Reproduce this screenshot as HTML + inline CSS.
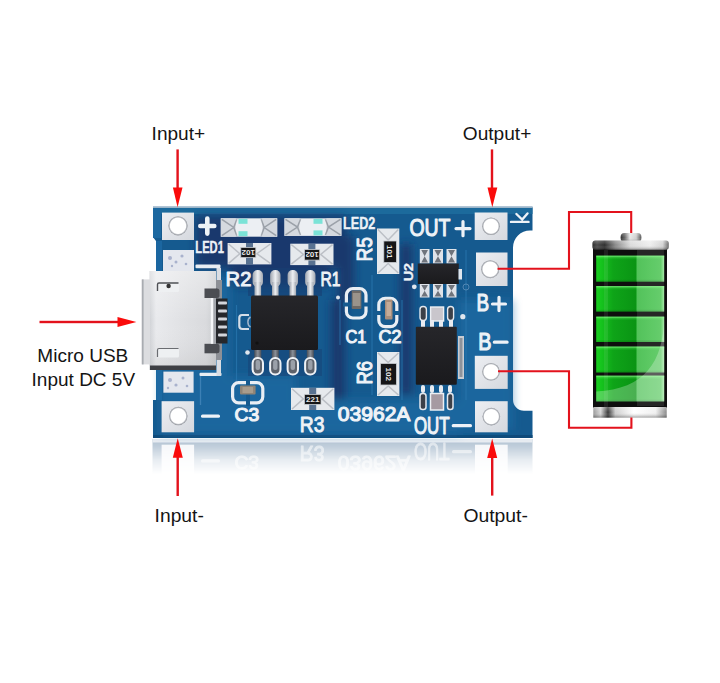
<!DOCTYPE html>
<html><head><meta charset="utf-8">
<style>
html,body{margin:0;padding:0;background:#fff;width:720px;height:683px;overflow:hidden}
svg{display:block}
.lbl{font-family:"Liberation Sans",sans-serif;font-size:19.2px;fill:#141414}
.ss{font-family:"Liberation Sans",sans-serif;fill:#eef2f7;stroke:#eef2f7;stroke-width:0.9;stroke-linejoin:round}
.gh{font-family:"Liberation Sans",sans-serif;fill:#ffffff;stroke:#ffffff;stroke-width:0.9;stroke-linejoin:round}
</style></head>
<body>
<svg width="720" height="683" viewBox="0 0 720 683">
<defs>
  <filter id="bl" x="-10%" y="-10%" width="120%" height="120%"><feGaussianBlur stdDeviation="4"/></filter>
  <linearGradient id="reflmask" x1="0" y1="0" x2="0" y2="1">
    <stop offset="0" stop-color="#fff" stop-opacity="1"/>
    <stop offset="0.25" stop-color="#fff" stop-opacity="0.75"/>
    <stop offset="0.6" stop-color="#fff" stop-opacity="0.3"/>
    <stop offset="1" stop-color="#fff" stop-opacity="0"/>
  </linearGradient>
  <mask id="rm" maskUnits="userSpaceOnUse" x="140" y="438" width="400" height="40">
    <rect x="140" y="438" width="400" height="36" fill="url(#reflmask)"/>
  </mask>
  <linearGradient id="usb" x1="0" y1="0" x2="1" y2="0">
    <stop offset="0" stop-color="#d0d2d6"/>
    <stop offset="0.1" stop-color="#e9eaed"/>
    <stop offset="0.5" stop-color="#e0e1e4"/>
    <stop offset="0.85" stop-color="#d9dadd"/>
    <stop offset="1" stop-color="#c8cacd"/>
  </linearGradient>
  <linearGradient id="usbv" x1="0" y1="0" x2="0" y2="1">
    <stop offset="0" stop-color="#ffffff" stop-opacity="0.35"/>
    <stop offset="0.5" stop-color="#ffffff" stop-opacity="0"/>
    <stop offset="1" stop-color="#888" stop-opacity="0.15"/>
  </linearGradient>
  <linearGradient id="metal" x1="0" y1="0" x2="1" y2="0">
    <stop offset="0" stop-color="#2a2a2a"/>
    <stop offset="0.06" stop-color="#4a4a4a"/>
    <stop offset="0.16" stop-color="#2e2e2e"/>
    <stop offset="0.3" stop-color="#8a8a8a"/>
    <stop offset="0.5" stop-color="#dcdcdc"/>
    <stop offset="0.75" stop-color="#eeeeee"/>
    <stop offset="0.92" stop-color="#d4d4d4"/>
    <stop offset="1" stop-color="#6a6a6a"/>
  </linearGradient>
  <linearGradient id="metal2" x1="0" y1="0" x2="1" y2="0">
    <stop offset="0" stop-color="#2e2e2e"/>
    <stop offset="0.2" stop-color="#6a6a6a"/>
    <stop offset="0.45" stop-color="#e8e8e8"/>
    <stop offset="0.75" stop-color="#cfcfcf"/>
    <stop offset="1" stop-color="#555"/>
  </linearGradient>
  <linearGradient id="metalb" x1="0" y1="0" x2="1" y2="0">
    <stop offset="0" stop-color="#9a9a9a"/>
    <stop offset="0.1" stop-color="#d8d8d8"/>
    <stop offset="0.2" stop-color="#3a3a3a"/>
    <stop offset="0.3" stop-color="#cfcfcf"/>
    <stop offset="0.55" stop-color="#ffffff"/>
    <stop offset="0.85" stop-color="#f0f0f0"/>
    <stop offset="1" stop-color="#8a8a8a"/>
  </linearGradient>
  <linearGradient id="metalv" x1="0" y1="0" x2="0" y2="1">
    <stop offset="0" stop-color="#ffffff" stop-opacity="0.25"/>
    <stop offset="0.5" stop-color="#ffffff" stop-opacity="0"/>
    <stop offset="1" stop-color="#000000" stop-opacity="0.35"/>
  </linearGradient>
  <linearGradient id="cell" x1="0" y1="0" x2="1" y2="0">
    <stop offset="0" stop-color="#18d020"/>
    <stop offset="0.1" stop-color="#14c01c"/>
    <stop offset="0.25" stop-color="#0ea418"/>
    <stop offset="0.58" stop-color="#0a9414"/>
    <stop offset="0.6" stop-color="#3fbc48"/>
    <stop offset="0.95" stop-color="#55c85c"/>
    <stop offset="1" stop-color="#9fe8a0"/>
  </linearGradient>
  <linearGradient id="cellv" x1="0" y1="0" x2="0" y2="1">
    <stop offset="0" stop-color="#90ff90" stop-opacity="0.8"/>
    <stop offset="0.08" stop-color="#80ff80" stop-opacity="0.15"/>
    <stop offset="0.15" stop-color="#80ff80" stop-opacity="0"/>
    <stop offset="0.9" stop-color="#000" stop-opacity="0"/>
    <stop offset="1" stop-color="#000" stop-opacity="0.15"/>
  </linearGradient>
  <linearGradient id="pad" x1="0" y1="0" x2="1" y2="1">
    <stop offset="0" stop-color="#eceef2"/>
    <stop offset="1" stop-color="#d5d8de"/>
  </linearGradient>
  <radialGradient id="hole" cx="0.5" cy="0.5" r="0.5">
    <stop offset="0.8" stop-color="#ffffff"/>
    <stop offset="0.9" stop-color="#b8bbc1"/>
    <stop offset="1" stop-color="#8f9298"/>
  </radialGradient>
  <linearGradient id="smd" x1="0" y1="0" x2="1" y2="0">
    <stop offset="0" stop-color="#d9dce1"/>
    <stop offset="0.5" stop-color="#f3f4f6"/>
    <stop offset="1" stop-color="#cdd0d6"/>
  </linearGradient>
  <linearGradient id="smdv" x1="0" y1="0" x2="0" y2="1">
    <stop offset="0" stop-color="#d9dce1"/>
    <stop offset="0.5" stop-color="#f3f4f6"/>
    <stop offset="1" stop-color="#cdd0d6"/>
  </linearGradient>
  <linearGradient id="pin" x1="0" y1="0" x2="1" y2="0">
    <stop offset="0" stop-color="#9da3ad"/>
    <stop offset="0.5" stop-color="#eef0f3"/>
    <stop offset="1" stop-color="#a3a8b1"/>
  </linearGradient>
  <linearGradient id="pinD" x1="0" y1="0" x2="1" y2="0">
    <stop offset="0" stop-color="#4a4e56"/>
    <stop offset="0.5" stop-color="#8a9099"/>
    <stop offset="1" stop-color="#4a4e56"/>
  </linearGradient>
  <linearGradient id="ic" x1="0" y1="0" x2="0" y2="1">
    <stop offset="0" stop-color="#26262a"/>
    <stop offset="1" stop-color="#1a1a1d"/>
  </linearGradient>
</defs>

<!-- reflection -->
<g mask="url(#rm)">
  <g transform="translate(0,877) scale(1,-1)">
    <rect x="152.5" y="400" width="380" height="38" fill="#adbfd0"/>
    <rect x="152.5" y="434.5" width="380" height="3.5" fill="#e4eaf0"/>
    <g fill="#f4f6f9">
      <rect x="161.6" y="401.2" width="32.5" height="31.1"/>
      <rect x="475" y="401.2" width="32.7" height="31.1"/>
    </g>
    <g opacity="0.55">
    <g fill="#ffffff">
      <rect x="201" y="414.4" width="19" height="3.4" rx="1.5"/>
      <rect x="452" y="423.8" width="20" height="3.2" rx="1.5"/>
    </g>
    <g class="gh">
      <text x="234.4" y="421" font-size="19" textLength="24.6" lengthAdjust="spacingAndGlyphs">C3</text>
      <text x="299.8" y="431.5" font-size="22" stroke-width="1" textLength="24.6" lengthAdjust="spacingAndGlyphs">R3</text>
      <text x="337.8" y="421.3" font-size="21" textLength="72.6" lengthAdjust="spacingAndGlyphs">03962A</text>
      <text x="414" y="433.6" font-size="24.5" textLength="35.6" lengthAdjust="spacingAndGlyphs">OUT</text>
    </g>
    </g>
  </g>
</g>

<!-- board -->
<path d="M153 206.8 H532.5 V230.4 H530 A17 17 0 0 0 513 247.4 V399.8 A11 11 0 0 0 524 410.8 H532.5 V438 H153 V400 H156 V241 Q153 238 153 236 Z" fill="#155a8f"/>
<rect x="153" y="206.5" width="379.5" height="1.6" fill="#9db6ca"/>
<rect x="153" y="208" width="379.5" height="6" fill="#1c6a9c"/>
<rect x="153" y="435" width="379.5" height="3" fill="#0f4a7a"/>
<rect x="156" y="241" width="6" height="159" fill="#1b66a0"/>
<rect x="153" y="208" width="8" height="30" fill="#1c68a0"/>
<!-- shading regions -->
<g filter="url(#bl)">
  <g fill="#172f62" opacity="0.75">
    <rect x="196" y="216" width="150" height="52"/>
    <rect x="230" y="262" width="100" height="24"/>
    <rect x="331" y="300" width="14" height="100"/>
    <rect x="338" y="236" width="16" height="64"/>
    <rect x="400" y="244" width="12" height="150"/>
  </g>
  <g fill="#1f72aa" opacity="0.55">
    <rect x="458" y="300" width="55" height="130"/>
    <rect x="160" y="400" width="300" height="34"/>
    <rect x="196" y="376" width="100" height="30"/>
    <rect x="160" y="280" width="70" height="120"/>
  </g>
</g>
<!-- traces -->
<g stroke="#2a78b0" stroke-width="1.2" fill="none" opacity="0.7">
  <line x1="236.5" y1="305" x2="236.5" y2="385"/>
  <line x1="340" y1="300" x2="340" y2="345"/>
  <line x1="372" y1="275" x2="372" y2="395"/>
  <line x1="402" y1="300" x2="402" y2="400"/>
  <line x1="466" y1="250" x2="466" y2="400"/>
</g>

<!-- pads -->
<g fill="url(#pad)">
  <rect x="162" y="212.6" width="32" height="27.4"/>
  <rect x="161.6" y="401.2" width="32.5" height="31.1"/>
  <rect x="474.7" y="212.5" width="32.8" height="27.5"/>
  <rect x="476" y="252.5" width="31.5" height="33.5"/>
  <rect x="474.8" y="355.8" width="32.9" height="33.1"/>
  <rect x="475" y="401.2" width="32.7" height="31.1"/>
</g>
<g>
  <rect x="163" y="250" width="31" height="22" fill="#e4e7ee"/>
  <rect x="163.4" y="371.6" width="30.2" height="21.1" fill="#e4e7ee"/>
  <g fill="#6f7fae" opacity="0.5">
    <circle cx="170" cy="258" r="2"/><circle cx="176" cy="262" r="1.5"/><circle cx="182" cy="256" r="1.6"/>
    <circle cx="186" cy="264" r="1.3"/><circle cx="172" cy="266" r="1.2"/>
    <circle cx="170" cy="380" r="2"/><circle cx="176" cy="385" r="1.6"/><circle cx="183" cy="378" r="1.5"/>
    <circle cx="187" cy="386" r="1.3"/><circle cx="168" cy="388" r="1.2"/>
  </g>
</g>
<g fill="url(#hole)">
  <circle cx="178" cy="225.8" r="9.6"/>
  <circle cx="178.3" cy="416" r="9.2"/>
  <circle cx="491" cy="226.2" r="8.8"/>
  <circle cx="490.2" cy="269.2" r="9"/>
  <circle cx="491" cy="371.8" r="8.8"/>
  <circle cx="491.3" cy="416.6" r="8.8"/>
</g>

<!-- LEDs -->
<g>
  <rect x="220.8" y="218.3" width="56.39999999999998" height="18.399999999999977" fill="#eceff3"/>
  <rect x="220.8" y="218.3" width="15" height="18.399999999999977" fill="#d5d9df"/>
  <rect x="262.2" y="218.3" width="15" height="18.399999999999977" fill="#d5d9df"/>
  <path d="M221.8 219.3 L233.8 227.5 L221.8 235.7 M236.8 219.3 L233.8 227.5 L236.8 235.7 M276.2 219.3 L264.2 227.5 L276.2 235.7 M261.2 219.3 L264.2 227.5 L261.2 235.7" fill="none" stroke="#6c727c" stroke-width="1.5" opacity="0.55"/>
  <rect x="238.5" y="218.8" width="9" height="5" fill="#5fe0cf" opacity="0.8"/>
  <rect x="238.5" y="231.2" width="9" height="5" fill="#5fe0cf" opacity="0.8"/>
  <rect x="284.5" y="218.3" width="56.89999999999998" height="17.599999999999994" fill="#eceff3"/>
  <rect x="284.5" y="218.3" width="15" height="17.599999999999994" fill="#d5d9df"/>
  <rect x="326.4" y="218.3" width="15" height="17.599999999999994" fill="#d5d9df"/>
  <path d="M285.5 219.3 L297.5 227.10000000000002 L285.5 234.9 M300.5 219.3 L297.5 227.10000000000002 L300.5 234.9 M340.4 219.3 L328.4 227.10000000000002 L340.4 234.9 M325.4 219.3 L328.4 227.10000000000002 L325.4 234.9" fill="none" stroke="#6c727c" stroke-width="1.5" opacity="0.55"/>
  <rect x="313.5" y="218.8" width="9" height="5" fill="#5fe0cf" opacity="0.8"/>
  <rect x="313.5" y="230.4" width="9" height="5" fill="#5fe0cf" opacity="0.8"/>
</g>

<!-- resistors -->
<g>
  <rect x="227.6" y="243" width="43.8" height="21.4" fill="#e6e9ed"/>
  <path d="M228.6 244 L239.8 253.7 L228.6 263.4 M270.4 244 L256.8 253.7 L270.4 263.4" fill="none" stroke="#7d838d" stroke-width="1.5" opacity="0.4"/>
  <rect x="246.0" y="243" width="7" height="21.4" fill="#2a4a72" opacity="0.75"/>
  <rect x="240.8" y="247.4" width="15.0" height="10.2" fill="#161618" stroke="#c9cdd3" stroke-width="0.8"/>
  <text x="248.3" y="255.4" text-anchor="middle" font-family="Liberation Sans, sans-serif" font-weight="bold" font-size="8" fill="#e9e9e9" transform="rotate(180 248.3 252.5)">102</text>
  <rect x="290.3" y="243.7" width="43.2" height="21.4" fill="#e6e9ed"/>
  <path d="M291.3 244.7 L303.5 254.4 L291.3 264.1 M332.5 244.7 L320.7 254.4 L332.5 264.1" fill="none" stroke="#7d838d" stroke-width="1.5" opacity="0.4"/>
  <rect x="308.4" y="243.7" width="7" height="21.4" fill="#2a4a72" opacity="0.75"/>
  <rect x="304.5" y="249.5" width="15.2" height="10.6" fill="#161618" stroke="#c9cdd3" stroke-width="0.8"/>
  <text x="312.1" y="257.7" text-anchor="middle" font-family="Liberation Sans, sans-serif" font-weight="bold" font-size="8" fill="#e9e9e9" transform="rotate(180 312.1 254.8)">102</text>
  <rect x="291" y="387.8" width="43.4" height="22.2" fill="#e6e9ed"/>
  <path d="M292 388.8 L303.4 398.9 L292 409 M333.4 388.8 L322 398.9 L333.4 409" fill="none" stroke="#7d838d" stroke-width="1.5" opacity="0.4"/>
  <rect x="309.2" y="387.8" width="7" height="22.2" fill="#2a4a72" opacity="0.75"/>
  <rect x="304.4" y="394.4" width="16.6" height="10.0" fill="#161618" stroke="#c9cdd3" stroke-width="0.8"/>
  <text x="312.7" y="402.3" text-anchor="middle" font-family="Liberation Sans, sans-serif" font-weight="bold" font-size="8" fill="#e9e9e9" transform="rotate(0 312.7 399.4)">221</text>
  <rect x="377" y="228.5" width="22.3" height="45.5" fill="#e6e9ed"/>
  <path d="M378 229.5 L388.15 240 L398.3 229.5 M378 273 L388.15 263.5 L398.3 273" fill="none" stroke="#7d838d" stroke-width="1.5" opacity="0.4"/>
  <rect x="383.8" y="241" width="12.6" height="21.5" fill="#161618" stroke="#c9cdd3" stroke-width="0.8"/>
  <text x="390.1" y="254.7" text-anchor="middle" font-family="Liberation Sans, sans-serif" font-weight="bold" font-size="8" fill="#e9e9e9" transform="rotate(90 390.1 251.8)">101</text>
  <rect x="377" y="352" width="22.4" height="44.0" fill="#e6e9ed"/>
  <path d="M378 353 L388.2 362.5 L398.4 353 M378 395 L388.2 386 L398.4 395" fill="none" stroke="#7d838d" stroke-width="1.5" opacity="0.4"/>
  <rect x="380.5" y="363.5" width="15.9" height="21.5" fill="#161618" stroke="#c9cdd3" stroke-width="0.8"/>
  <text x="388.4" y="377.1" text-anchor="middle" font-family="Liberation Sans, sans-serif" font-weight="bold" font-size="8" fill="#e9e9e9" transform="rotate(90 388.4 374.2)">102</text>
</g>
<!-- capacitors -->
<g fill="none" stroke="#e9eef4" stroke-width="3.2">
  <rect x="346.4" y="288.6" width="19.6" height="29.4" rx="6.5"/>
  <rect x="378.8" y="298.3" width="18" height="28.4" rx="6.5"/>
  <rect x="232.6" y="382.6" width="30.2" height="20.2" rx="6"/>
</g>
<g fill="#155a8f">
  <rect x="343" y="302.5" width="26" height="4"/>
  <rect x="376" y="311" width="24" height="4"/>
  <rect x="246" y="380" width="4" height="26"/>
</g>
<g>
  <rect x="351.7" y="290.5" width="9.7" height="18.5" rx="1" fill="#6f6a66"/>
  <rect x="352.7" y="293" width="7.7" height="13" fill="#9a938b"/>
  <rect x="385" y="299.5" width="7.5" height="20" rx="1" fill="#a88e7c"/>
  <rect x="386.5" y="302" width="4.5" height="14" fill="#c4ab98"/>
  <rect x="240" y="385.5" width="15.6" height="9" rx="1" fill="#8f8476"/>
  <rect x="242.5" y="387" width="10.6" height="6" fill="#a89c8c"/>
</g>

<!-- IC1 SOP-8 -->
<rect x="248" y="268" width="74" height="28" fill="#173f73" opacity="0.6"/>
<rect x="248" y="349" width="74" height="27" fill="#173f73" opacity="0.5"/>
  <rect x="252.6" y="270" width="10.4" height="17" rx="5" fill="url(#pin)"/>
  <rect x="254.5" y="282" width="6.6" height="14" fill="url(#pin)"/>
  <rect x="270.1" y="270" width="10.4" height="17" rx="5" fill="url(#pin)"/>
  <rect x="272.0" y="282" width="6.6" height="14" fill="url(#pin)"/>
  <rect x="287.6" y="270" width="10.4" height="17" rx="5" fill="url(#pin)"/>
  <rect x="289.5" y="282" width="6.6" height="14" fill="url(#pin)"/>
  <rect x="305.1" y="270" width="10.4" height="17" rx="5" fill="url(#pin)"/>
  <rect x="307.0" y="282" width="6.6" height="14" fill="url(#pin)"/>
  <rect x="254.3" y="349" width="7" height="14" fill="url(#pinD)"/>
  <rect x="252.6" y="358" width="10.4" height="16.5" rx="5" fill="#5d626b" stroke="#eef1f5" stroke-width="2"/>
  <rect x="255.6" y="360" width="4.4" height="10" rx="2" fill="#9aa0a9"/>
  <rect x="271.8" y="349" width="7" height="14" fill="url(#pinD)"/>
  <rect x="270.1" y="358" width="10.4" height="16.5" rx="5" fill="#5d626b" stroke="#eef1f5" stroke-width="2"/>
  <rect x="273.1" y="360" width="4.4" height="10" rx="2" fill="#9aa0a9"/>
  <rect x="289.3" y="349" width="7" height="14" fill="url(#pinD)"/>
  <rect x="287.6" y="358" width="10.4" height="16.5" rx="5" fill="#5d626b" stroke="#eef1f5" stroke-width="2"/>
  <rect x="290.6" y="360" width="4.4" height="10" rx="2" fill="#9aa0a9"/>
  <rect x="306.8" y="349" width="7" height="14" fill="url(#pinD)"/>
  <rect x="305.1" y="358" width="10.4" height="16.5" rx="5" fill="#5d626b" stroke="#eef1f5" stroke-width="2"/>
  <rect x="308.1" y="360" width="4.4" height="10" rx="2" fill="#9aa0a9"/>
<rect x="251" y="295.6" width="67" height="54.3" rx="1.5" fill="url(#ic)"/>
<circle cx="257" cy="343" r="1.6" fill="#111"/>
<circle cx="247.5" cy="352.5" r="2.3" fill="#dfe6ee"/>
<circle cx="338" cy="297.5" r="2" fill="#dfe6ee"/>
<path d="M249 315 H242 Q239.3 315 239.3 318 V326 Q239.3 329 242.5 329 H249" fill="none" stroke="#d5dee8" stroke-width="2.2"/>
<path d="M250.5 317 A4.5 5.5 0 0 0 250.5 327" fill="none" stroke="#9fb5cc" stroke-width="1.5"/>

<!-- U2 SOT23-6 -->
<g>
  <rect x="419.8" y="249" width="9.7" height="14.5" fill="#dfe3e9"/>
  <rect x="433" y="249" width="10" height="14.5" fill="#dfe3e9"/>
  <rect x="446.5" y="249" width="10" height="14.5" fill="#dfe3e9"/>
  <rect x="419.8" y="284" width="9.7" height="13.5" fill="#dfe3e9"/>
  <rect x="433" y="284" width="10" height="13.5" fill="#dfe3e9"/>
  <rect x="446.5" y="284" width="10" height="13.5" fill="#dfe3e9"/>
  <g fill="#4a4f58" opacity="0.75">
    <polygon points="421.3,250 428.0,250 424.65,256.25 428.0,262.5 421.3,262.5 424.65,256.25"/>
    <polygon points="434.5,250 441.5,250 438.0,256.25 441.5,262.5 434.5,262.5 438.0,256.25"/>
    <polygon points="448.0,250 455.0,250 451.5,256.25 455.0,262.5 448.0,262.5 451.5,256.25"/>
    <polygon points="421.3,285 428.0,285 424.65,290.75 428.0,296.5 421.3,296.5 424.65,290.75"/>
    <polygon points="434.5,285 441.5,285 438.0,290.75 441.5,296.5 434.5,296.5 438.0,290.75"/>
    <polygon points="448.0,285 455.0,285 451.5,290.75 455.0,296.5 448.0,296.5 451.5,290.75"/>
  </g>
</g>
<rect x="417.8" y="263.5" width="41" height="20.5" fill="url(#ic)"/>
<circle cx="414.3" cy="286.8" r="2.4" fill="#dfe6ee"/>
<rect x="458.5" y="269" width="3.5" height="10.5" fill="#dfe6ee"/>
<circle cx="466" cy="287" r="3" fill="none" stroke="#7fa7cc" stroke-width="0.8" opacity="0.7"/>

<!-- IC3 MSOP-8 -->
<g>
  <rect x="420" y="306.5" width="6.4" height="14" rx="3" fill="#3c4048" stroke="#e4e8ee" stroke-width="1.4"/>
  <rect x="430.6" y="307" width="13" height="14" fill="#c9c6cc" stroke="#eceff3" stroke-width="1.4"/>
  <rect x="447.6" y="306.5" width="6" height="14" rx="3" fill="#3c4048" stroke="#e4e8ee" stroke-width="1.4"/>
  <g fill="#e8ebf0">
    <rect x="421" y="320" width="4" height="7"/>
    <rect x="430" y="320" width="4" height="7"/>
    <rect x="439" y="320" width="4" height="7"/>
    <rect x="449" y="320" width="4" height="7"/>
    <rect x="421" y="385" width="4" height="8" rx="2"/>
    <rect x="430" y="385" width="4" height="8" rx="2"/>
    <rect x="439" y="385" width="4" height="8" rx="2"/>
    <rect x="448" y="385" width="4" height="8" rx="2"/>
  </g>
  <rect x="420" y="393.5" width="6" height="16" rx="2.5" fill="#3c4048" stroke="#e4e8ee" stroke-width="1.5"/>
  <rect x="430.5" y="393.5" width="13" height="16.5" fill="#a69aa2" stroke="#eceff3" stroke-width="1.5"/>
  <rect x="447.5" y="393.5" width="5.5" height="16" rx="2.5" fill="#3c4048" stroke="#e4e8ee" stroke-width="1.5"/>
</g>
<rect x="415.8" y="326.8" width="41" height="58" rx="1" fill="url(#ic)"/>
<rect x="458" y="336" width="6" height="43" fill="#c9ccd2"/>
<rect x="459.5" y="338" width="3" height="39" fill="#8e939b"/>
<circle cx="462.8" cy="316.7" r="2.6" fill="#dfe6ee"/>

<!-- USB silkscreen -->
<g fill="#e8edf3">
  <rect x="195.5" y="264.6" width="25" height="3.6" rx="1"/>
  <rect x="199.5" y="372.8" width="22" height="3.2" rx="1"/>
  <rect x="216.5" y="268" width="4.5" height="22" fill="#d9dde3"/>
  <rect x="216.5" y="352" width="4.5" height="24" fill="#d9dde3"/>
</g>
<line x1="200.5" y1="376" x2="200.5" y2="405" stroke="#4a8cc0" stroke-width="1.3" opacity="0.7"/>
<!-- USB connector -->
<g>
  <rect x="215" y="280" width="7" height="80" fill="#8d9096"/>
  <rect x="215.5" y="298.5" width="12" height="45" fill="#25272b"/>
  <g fill="#d3d6db">
    <rect x="218" y="301.5" width="9" height="3" rx="1"/>
    <rect x="218" y="309.5" width="9" height="3" rx="1"/>
    <rect x="218" y="317.5" width="9" height="3" rx="1"/>
    <rect x="218" y="325.5" width="9" height="3" rx="1"/>
    <rect x="218" y="333.5" width="9" height="3" rx="1"/>
  </g>
  <rect x="204.5" y="288.5" width="15" height="9.5" rx="2.5" fill="#4b4d52"/>
  <rect x="204.5" y="343.8" width="15" height="9.5" rx="2.5" fill="#4b4d52"/>
  <rect x="149.5" y="271" width="66.5" height="99" fill="url(#usb)"/>
  <rect x="149.5" y="271" width="66.5" height="99" fill="url(#usbv)"/>
  <rect x="141.8" y="279.4" width="8.2" height="85" fill="#dcdde0"/>
  <rect x="141.8" y="279.4" width="1.8" height="85" fill="#a9acb1"/>
  <rect x="150" y="365.5" width="66" height="4.5" fill="#3e3f44"/>
  <g>
    <rect x="157" y="283" width="22" height="9" rx="1.5" fill="#eef0f2"/>
    <path d="M157.5 291 V284.5 Q157.5 283 159 283 H178.5" fill="none" stroke="#4f5156" stroke-width="1.4"/>
    <circle cx="168.6" cy="286" r="2.2" fill="#333"/>
    <rect x="157" y="348.5" width="22" height="9" rx="1.5" fill="#eef0f2"/>
    <path d="M157.5 357 V350 Q157.5 348.5 159 348.5 H178.5" fill="none" stroke="#6a6c71" stroke-width="1.2"/>
  </g>
  <rect x="204.5" y="288.5" width="12" height="9.5" fill="#4b4d52"/>
  <rect x="204.5" y="343.8" width="12" height="9.5" fill="#4b4d52"/>
  <rect x="210.8" y="298" width="2.6" height="45.8" fill="#f6f7f9"/>
  <rect x="213.4" y="298" width="2.6" height="45.8" fill="#a4a7ad"/>
</g>

<!-- silkscreen text -->
<g class="ss">
  
  <text x="195.3" y="253.3" font-size="16.5" font-weight="bold" stroke-width="0.4" textLength="28.6" lengthAdjust="spacingAndGlyphs">LED1</text>
  <text x="343" y="228.6" font-size="16.5" font-weight="bold" stroke-width="0.4" textLength="32.3" lengthAdjust="spacingAndGlyphs">LED2</text>
  <text x="225.6" y="286" font-size="21" stroke-width="1" textLength="25.8" lengthAdjust="spacingAndGlyphs">R2</text>
  <text x="320.4" y="286" font-size="21" stroke-width="1" textLength="20" lengthAdjust="spacingAndGlyphs">R1</text>
  <text transform="translate(371.8,261.5) rotate(-90)" font-size="22" stroke-width="1" textLength="24.5" lengthAdjust="spacingAndGlyphs">R5</text>
  <text transform="translate(412.8,281.3) rotate(-90)" font-size="12.5" font-weight="bold" stroke-width="0.3" textLength="18.3" lengthAdjust="spacingAndGlyphs">U2</text>
  <text x="345.5" y="343" font-size="19" stroke-width="1.1" textLength="21" lengthAdjust="spacingAndGlyphs">C1</text>
  <text x="378.4" y="343" font-size="19" stroke-width="1.1" textLength="23" lengthAdjust="spacingAndGlyphs">C2</text>
  <text transform="translate(371.6,384.6) rotate(-90)" font-size="22" stroke-width="1" textLength="23.6" lengthAdjust="spacingAndGlyphs">R6</text>
  <text x="234.6" y="420.8" font-size="19" stroke-width="1.2" textLength="24.6" lengthAdjust="spacingAndGlyphs">C3</text>
  <text x="299.8" y="431.5" font-size="22" stroke-width="1" textLength="24.6" lengthAdjust="spacingAndGlyphs">R3</text>
  <text x="337.8" y="421.3" font-size="21" stroke-width="1.2" textLength="72.6" lengthAdjust="spacingAndGlyphs">03962A</text>
  <text x="409.4" y="236.4" font-size="24.5" stroke-width="1.2" textLength="41" lengthAdjust="spacingAndGlyphs">OUT</text>
  <text x="414" y="433.6" font-size="24.5" stroke-width="1.2" textLength="35.6" lengthAdjust="spacingAndGlyphs">OUT</text>
  <text x="476.6" y="311.4" font-size="24.5" stroke-width="1.2" textLength="12.6" lengthAdjust="spacingAndGlyphs">B</text>
  <text x="478.3" y="350.2" font-size="24.5" stroke-width="1.2" textLength="13.2" lengthAdjust="spacingAndGlyphs">B</text>
</g>
<path d="M200.3 226 H214.3 M207.3 218.5 V233.6" stroke="#eef2f7" stroke-width="4.6" stroke-linecap="round" fill="none"/>
<path d="M456 228.6 H470 M463 221.5 V235.7 M492.5 304 H505.5 M499 297.3 V310.6" stroke="#eef2f7" stroke-width="3.2" stroke-linecap="round" fill="none"/>
<g fill="#eef2f7">
  <rect x="201" y="414.4" width="19" height="3.4" rx="1.5"/>
  <rect x="451.7" y="423.9" width="20.3" height="3.3" rx="1.5"/>
  <rect x="492.8" y="340.4" width="15.8" height="3.3" rx="1.5"/>
</g>
<path d="M511 221.9 H528.5 M516.4 214 L522.2 219.5 L527.5 213.5" stroke="#eef2f7" stroke-width="2.4" stroke-linecap="round" fill="none"/>

<!-- battery -->
<g>
  <rect x="620.6" y="233" width="20.8" height="9" rx="4" fill="url(#metal2)"/>
  <rect x="620.6" y="233" width="20.8" height="9" rx="4" fill="url(#metalv)"/>
  <rect x="593" y="248" width="74" height="160" fill="#0e0e0e"/>
  <rect x="592.4" y="240.5" width="76.4" height="9.2" rx="3" fill="url(#metal)"/>
  <rect x="592.4" y="240.5" width="76.4" height="9.2" rx="3" fill="url(#metalv)"/>
  <g fill="url(#cell)">
    <rect x="596.2" y="255.7" width="68" height="26"/>
    <rect x="596.2" y="286.1" width="68" height="25.5"/>
    <rect x="596.2" y="316.7" width="68" height="25.3"/>
    <rect x="596.2" y="346.6" width="68" height="25.9"/>
    <rect x="596.2" y="375.7" width="68" height="25.7"/>
  </g>
  <g fill="url(#cellv)">
    <rect x="596.2" y="255.7" width="68" height="26"/>
    <rect x="596.2" y="286.1" width="68" height="25.5"/>
    <rect x="596.2" y="316.7" width="68" height="25.3"/>
    <rect x="596.2" y="346.6" width="68" height="25.9"/>
    <rect x="596.2" y="375.7" width="68" height="25.7"/>
  </g>
  <rect x="637" y="250" width="27" height="156" fill="#ffffff" opacity="0.1"/>
  <rect x="604" y="250" width="4" height="158" fill="#ffffff" opacity="0.08"/>
  <path d="M664.2 318 C663 362 645 389 596.2 391.5 V401.4 H664.2 Z" fill="#ffffff" opacity="0.26"/>
  <rect x="593.3" y="407" width="73.4" height="10.6" fill="url(#metalb)"/>
  <rect x="593.3" y="407" width="73.4" height="10.6" fill="url(#metalv)"/>
</g>

<!-- wires -->
<g fill="none" stroke="#e3121c" stroke-width="2.1">
  <polyline points="497.5,268.8 569,268.8 569,212 631.2,212 631.2,233"/>
  <polyline points="498,371.3 569,371.3 569,427.7 631.4,427.7 631.4,417.6"/>
</g>

<!-- arrows -->
<g fill="#e3121c" stroke="none">
  <rect x="176.4" y="149.4" width="2.4" height="40"/>
  <rect x="490.8" y="149.4" width="2.4" height="40"/>
  <rect x="176.5" y="455" width="2.4" height="41"/>
  <rect x="491" y="455" width="2.4" height="40.6"/>
  <rect x="39.5" y="320.8" width="80" height="2.4"/>
</g>
<g fill="#fa0b0b" stroke="none">
  <polygon points="172.9,187.5 182.5,187.5 177.6,207.2"/>
  <polygon points="487.5,187.5 497.3,187.5 492.3,207.3"/>
  <polygon points="172.8,457.7 182.8,457.7 177.7,438.2"/>
  <polygon points="487.2,458 497.2,458 492.2,438.4"/>
  <polygon points="117.5,317 117.5,327 136.4,322"/>
</g>

<!-- labels -->
<g class="lbl">
  <text x="151.6" y="140.3" textLength="53.5" lengthAdjust="spacingAndGlyphs">Input+</text>
  <text x="462.8" y="140.2" textLength="68.5" lengthAdjust="spacingAndGlyphs">Output+</text>
  <text x="154.6" y="522.3" textLength="49.2" lengthAdjust="spacingAndGlyphs">Input-</text>
  <text x="463.4" y="522.1" textLength="64.5" lengthAdjust="spacingAndGlyphs">Output-</text>
  <text x="37.3" y="361.6" textLength="91" lengthAdjust="spacingAndGlyphs">Micro USB</text>
  <text x="31.6" y="385.9" textLength="103.5" lengthAdjust="spacingAndGlyphs">Input DC 5V</text>
</g>
</svg>
</body></html>
